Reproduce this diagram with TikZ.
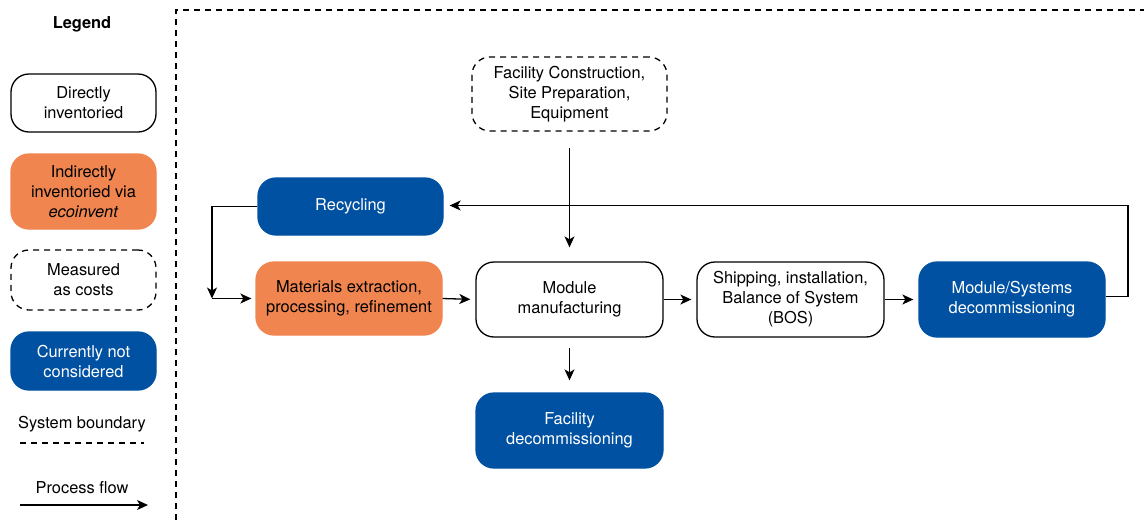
\documentclass[tikz,border=0pt]{standalone}
\usepackage{fontspec}
\setmainfont{TeX Gyre Heros}
\usetikzlibrary{arrows.meta}
\definecolor{orng}{RGB}{240,133,80}
\definecolor{blu}{RGB}{0,81,161}
\newcommand{\fs}{\fontsize{16.4}{20}\selectfont}
\tikzset{
  box/.style={rectangle, rounded corners=18pt, minimum width=187pt, minimum height=75pt, align=center, inner sep=0pt, line width=1.3pt, font=\fs},
  wbox/.style={box, draw=black, fill=white},
  obox/.style={box, draw=orng, fill=orng},
  bbox/.style={box, draw=blu, fill=blu, text=white},
  dbox/.style={box, draw=black, dash pattern=on 6pt off 5pt},
  lbl/.style={font=\fs, inner sep=0pt},
  flow/.style={line width=1.3pt, -{Stealth[length=11pt,width=10pt,inset=3pt]}},
  bound/.style={line width=1.3pt, dash pattern=on 6pt off 5pt}
}
\begin{document}
\begin{tikzpicture}[x=1pt,y=-1pt]
\useasboundingbox (0,0) rectangle (1144,520);
% legend
\node[lbl, font=\fs\bfseries] (leg) at (82,24.5) {Legend};
\node[wbox, minimum width=145pt, minimum height=58pt] (ld) at (83.5,103) {Directly\\inventoried};
\node[obox, minimum width=145pt, minimum height=75pt] (li) at (83.5,191.5) {Indirectly\\inventoried via\\\textit{ecoinvent}};
\node[dbox, minimum width=145pt, minimum height=60pt] (lm) at (83.5,280) {Measured\\as costs};
\node[bbox, minimum width=145pt, minimum height=58pt] (lc) at (83.5,361) {Currently not\\considered};
\node[lbl] (lsb) at (82,424.5) {System boundary};
\coordinate (lsa) at (20,443);
\coordinate (lsz) at (144,443);
\draw[bound] (lsa) -- (lsz);
\node[lbl] (lpf) at (82,487.5) {Process flow};
\coordinate (lpa) at (20,505);
\coordinate (lpz) at (148,505);
\draw[flow] (lpa) -- (lpz);
% system boundary
\coordinate (sb1) at (176,520);
\coordinate (sb2) at (176,10);
\coordinate (sb3) at (1144,10);
\draw[bound] (sb1) -- (sb2) -- (sb3);
% main nodes
\node[dbox, minimum width=195pt, minimum height=74pt] (fc) at (569.5,94) {Facility Construction,\\Site Preparation,\\Equipment};
\node[bbox, minimum width=185pt, minimum height=57pt] (rec) at (350.5,206.5) {Recycling};
\node[obox, minimum width=186pt, minimum height=73pt] (mat) at (349,298.5) {Materials extraction,\\processing, refinement};
\node[wbox] (mm) at (569.5,299.5) {Module\\manufacturing};
\node[wbox] (sh) at (790.5,299.5) {Shipping, installation,\\Balance of System\\(BOS)};
\node[bbox, minimum width=186pt] (ms) at (1012,299.5) {Module/Systems\\decommissioning};
\node[bbox] (fd) at (569.5,430.5) {Facility\\decommissioning};
% connectors
\coordinate (j) at (212,298.5);
\draw[flow] (rec.west) -| (j);
\draw[flow, shorten >=4pt] (j) -- (mat.west);
\draw[flow, shorten >=5pt] (mat.east) -- (mm.west);
\draw[flow, shorten >=5pt] (mm.east) -- (sh.west);
\draw[flow, shorten >=5pt] (sh.east) -- (ms.west);
\draw[flow, shorten <=16pt, shorten >=14pt] (fc.south) -- (mm.north);
\draw[flow, shorten <=10pt, shorten >=12pt] (mm.south) -- (fd.north);
\coordinate (rt) at (1128,205.5);
\draw[flow, shorten >=6pt] ([yshift=3pt]ms.east) -| (rt) -- (rt -| rec.east);
\end{tikzpicture}
\end{document}
